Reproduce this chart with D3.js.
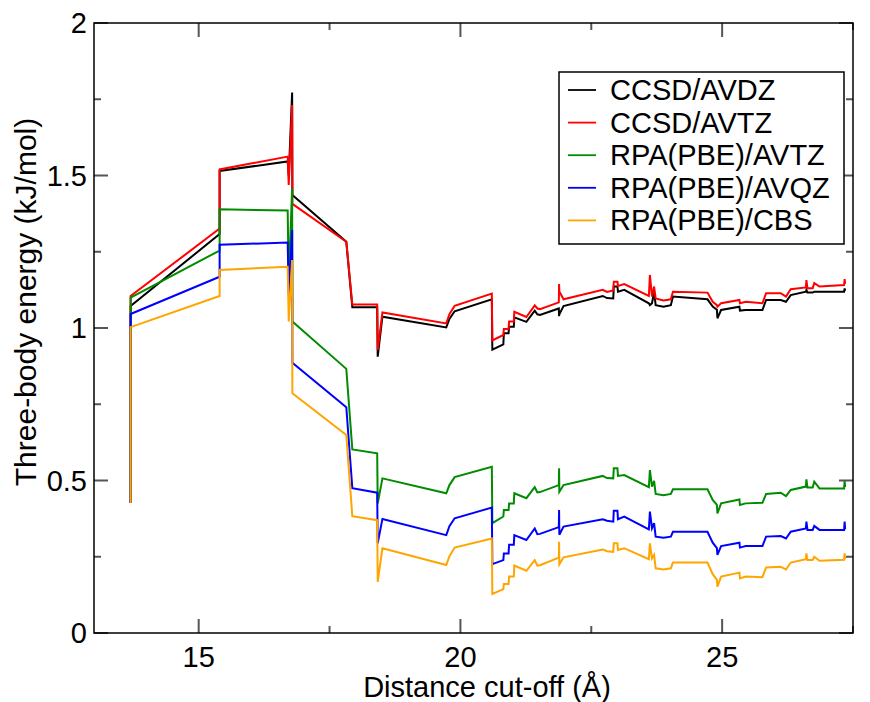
<!DOCTYPE html>
<html>
<head>
<script src="https://d3js.org/d3.v7.min.js"></script>
<style>
  body { margin: 0; background: #fff; }
  svg { font-family: "Liberation Sans", Arial, sans-serif; }
  .frame { fill: none; stroke: #000; stroke-width: 1.5px; }
  .tick-mark { stroke: #555; stroke-width: 2px; }
  .tick-label { font-size: 29px; fill: #000; }
  .axis-title { font-size: 29px; fill: #000; }
  .series { fill: none; stroke-width: 2px; stroke-linejoin: miter; }
  .legend-box { fill: #fff; stroke: #000; stroke-width: 1.5px; }
  .legend-text { font-size: 29px; fill: #000; }
</style>
</head>
<body>
<script>
// cut-off distance (Angstrom), shared by all series
var cutoff = [13.70, 13.70, 15.40, 15.40, 16.70, 16.72, 16.785, 16.79, 17.82, 17.935,
  18.41, 18.42, 18.51, 19.73, 19.79, 19.89, 20.60, 20.61, 20.82, 20.83,
  20.92, 20.93, 21.02, 21.03, 21.26, 21.42, 21.47, 21.52, 21.88, 21.885,
  21.89, 21.97, 22.72, 22.80, 22.92, 22.93, 23.00, 23.01, 23.13, 23.60,
  23.62, 23.66, 23.70, 23.73, 23.88, 24.02, 24.06, 24.72, 24.82, 24.90,
  24.91, 24.98, 25.33, 25.34, 25.45, 25.77, 25.84, 26.12, 26.22, 26.31,
  26.60, 26.61, 26.63, 26.73, 26.76, 26.86, 27.33, 27.34, 27.35];

var ccsdAvdz = [0.426, 1.072, 1.308, 1.515, 1.546, 1.500, 1.772, 1.436, 1.283, 1.068,
  1.068, 0.906, 1.037, 1.002, 1.030, 1.055, 1.094, 0.929, 0.946, 0.983,
  0.983, 1.004, 1.004, 1.035, 1.020, 1.057, 1.045, 1.043, 1.064, 1.039,
  1.045, 1.072, 1.105, 1.098, 1.097, 1.136, 1.136, 1.119, 1.125, 1.081,
  1.075, 1.081, 1.119, 1.075, 1.070, 1.075, 1.103, 1.094, 1.070, 1.060,
  1.032, 1.059, 1.070, 1.057, 1.059, 1.059, 1.092, 1.092, 1.086, 1.108,
  1.119, 1.125, 1.116, 1.116, 1.119, 1.119, 1.119, 1.130, 1.122];

var ccsdAvtz = [0.426, 1.105, 1.326, 1.520, 1.562, 1.469, 1.731, 1.407, 1.283, 1.077,
  1.077, 0.928, 1.051, 1.015, 1.045, 1.073, 1.113, 0.959, 0.977, 0.997,
  0.997, 1.021, 1.021, 1.053, 1.036, 1.074, 1.064, 1.062, 1.084, 1.144,
  1.120, 1.094, 1.125, 1.118, 1.123, 1.152, 1.152, 1.138, 1.144, 1.105,
  1.174, 1.103, 1.136, 1.097, 1.090, 1.094, 1.119, 1.116, 1.086, 1.075,
  1.070, 1.081, 1.092, 1.081, 1.086, 1.081, 1.114, 1.114, 1.103, 1.127,
  1.133, 1.157, 1.130, 1.130, 1.147, 1.136, 1.141, 1.160, 1.145];

var rpaAvtz = [0.426, 1.100, 1.254, 1.389, 1.385, 1.150, 1.458, 1.021, 0.866, 0.602,
  0.589, 0.425, 0.507, 0.458, 0.485, 0.511, 0.545, 0.360, 0.382, 0.403,
  0.403, 0.425, 0.425, 0.458, 0.442, 0.478, 0.461, 0.462, 0.485, 0.540,
  0.463, 0.485, 0.515, 0.508, 0.507, 0.540, 0.540, 0.515, 0.518, 0.478,
  0.534, 0.480, 0.499, 0.456, 0.452, 0.456, 0.471, 0.471, 0.436, 0.420,
  0.392, 0.425, 0.438, 0.420, 0.425, 0.427, 0.456, 0.460, 0.449, 0.469,
  0.480, 0.504, 0.477, 0.477, 0.496, 0.474, 0.474, 0.498, 0.478];

var rpaAvqz = [0.426, 1.046, 1.168, 1.273, 1.280, 1.108, 1.321, 0.886, 0.740, 0.475,
  0.460, 0.294, 0.374, 0.321, 0.350, 0.376, 0.411, 0.226, 0.239, 0.261,
  0.261, 0.289, 0.289, 0.321, 0.305, 0.343, 0.324, 0.325, 0.347, 0.403,
  0.322, 0.349, 0.373, 0.368, 0.365, 0.401, 0.401, 0.373, 0.382, 0.340,
  0.398, 0.343, 0.360, 0.316, 0.312, 0.316, 0.332, 0.332, 0.296, 0.278,
  0.256, 0.285, 0.296, 0.280, 0.285, 0.285, 0.316, 0.318, 0.310, 0.332,
  0.343, 0.365, 0.338, 0.338, 0.351, 0.338, 0.338, 0.365, 0.340];

var rpaCbs = [0.426, 1.003, 1.105, 1.190, 1.201, 1.021, 1.223, 0.786, 0.649, 0.383,
  0.370, 0.168, 0.278, 0.223, 0.252, 0.280, 0.310, 0.128, 0.144, 0.161,
  0.161, 0.185, 0.185, 0.221, 0.204, 0.239, 0.221, 0.222, 0.247, 0.299,
  0.225, 0.248, 0.274, 0.268, 0.266, 0.294, 0.294, 0.272, 0.278, 0.242,
  0.294, 0.245, 0.256, 0.212, 0.208, 0.212, 0.231, 0.231, 0.193, 0.174,
  0.152, 0.185, 0.198, 0.179, 0.185, 0.183, 0.215, 0.217, 0.208, 0.231,
  0.242, 0.261, 0.239, 0.239, 0.250, 0.237, 0.240, 0.261, 0.242];

var seriesNames = ["CCSD/AVDZ", "CCSD/AVTZ", "RPA(PBE)/AVTZ", "RPA(PBE)/AVQZ", "RPA(PBE)/CBS"];
var seriesValues = [ccsdAvdz, ccsdAvtz, rpaAvtz, rpaAvqz, rpaCbs];
var seriesColors = ["#000000", "#ff0000", "#008b00", "#0000ff", "#ffa500"];

var xTicks = [15, 20, 25];
var xMinor = [17.5, 22.5, 27.5];
var yTicks = [0, 0.5, 1, 1.5, 2];
var yMinor = [0.25, 0.75, 1.25, 1.75];

function draw_chart() {
  "use strict";

  var margin = {top: 23, right: 17, bottom: 69, left: 94},
      width = 870 - margin.left - margin.right,
      height = 702 - margin.top - margin.bottom;

  var svg = d3.select("body")
      .append("svg")
      .attr("width", 870)
      .attr("height", 702);

  var g = svg.append("g")
      .attr("transform", "translate(" + margin.left + "," + margin.top + ")");

  var x_scale = d3.scaleLinear().domain([13, 27.5]).range([0, width]);
  var y_scale = d3.scaleLinear().domain([0, 2]).range([height, 0]);

  // data lines
  var line = d3.line()
      .x(function(d) { return x_scale(d[0]); })
      .y(function(d) { return y_scale(d[1]); });

  seriesValues.forEach(function(vals, i) {
    var pts = cutoff.map(function(c, j) { return [c, vals[j]]; });
    g.append("path")
      .attr("class", "series")
      .attr("stroke", seriesColors[i])
      .attr("d", line(pts));
  });

  // ticks on all four sides, pointing inward
  var ticks = g.append("g");
  function xTick(v, len) {
    ticks.append("line").attr("class", "tick-mark")
      .attr("x1", x_scale(v)).attr("x2", x_scale(v))
      .attr("y1", height).attr("y2", height - len);
    ticks.append("line").attr("class", "tick-mark")
      .attr("x1", x_scale(v)).attr("x2", x_scale(v))
      .attr("y1", 0).attr("y2", len);
  }
  function yTick(v, len) {
    ticks.append("line").attr("class", "tick-mark")
      .attr("x1", 0).attr("x2", len)
      .attr("y1", y_scale(v)).attr("y2", y_scale(v));
    ticks.append("line").attr("class", "tick-mark")
      .attr("x1", width).attr("x2", width - len)
      .attr("y1", y_scale(v)).attr("y2", y_scale(v));
  }
  xTicks.forEach(function(v) { xTick(v, 14); });
  xMinor.forEach(function(v) { xTick(v, 7); });
  yTicks.forEach(function(v) { yTick(v, 14); });
  yMinor.forEach(function(v) { yTick(v, 7); });

  g.append("rect")
      .attr("class", "frame")
      .attr("width", width)
      .attr("height", height);

  // tick labels
  g.selectAll(".xlab").data(xTicks).enter()
    .append("text")
      .attr("class", "tick-label")
      .attr("x", function(d) { return x_scale(d); })
      .attr("y", height + 34)
      .attr("text-anchor", "middle")
      .text(function(d) { return d; });

  g.selectAll(".ylab").data(yTicks).enter()
    .append("text")
      .attr("class", "tick-label")
      .attr("x", -7)
      .attr("y", function(d) { return y_scale(d) + 10; })
      .attr("text-anchor", "end")
      .text(function(d) { return d; });

  // axis titles
  svg.append("text")
      .attr("class", "axis-title")
      .attr("x", 487)
      .attr("y", 697)
      .attr("text-anchor", "middle")
      .text("Distance cut-off (Å)");

  svg.append("text")
      .attr("class", "axis-title")
      .style("font-size", "30px")
      .attr("transform", "translate(36,302) rotate(-90)")
      .attr("text-anchor", "middle")
      .text("Three-body energy (kJ/mol)");

  // legend
  var leg = svg.append("g");
  leg.append("rect")
      .attr("class", "legend-box")
      .attr("x", 559).attr("y", 72)
      .attr("width", 285).attr("height", 172);

  var rows = leg.selectAll(".row").data(seriesNames).enter()
    .append("g")
      .attr("transform", function(d, i) { return "translate(0," + (90 + i * 32.6) + ")"; });
  rows.append("line")
      .attr("x1", 568).attr("x2", 596)
      .attr("stroke", function(d, i) { return seriesColors[i]; })
      .attr("stroke-width", 1.8);
  rows.append("text")
      .attr("class", "legend-text")
      .attr("x", 610)
      .attr("y", 10)
      .text(function(d) { return d; });
}

draw_chart();
</script>
</body>
</html>
